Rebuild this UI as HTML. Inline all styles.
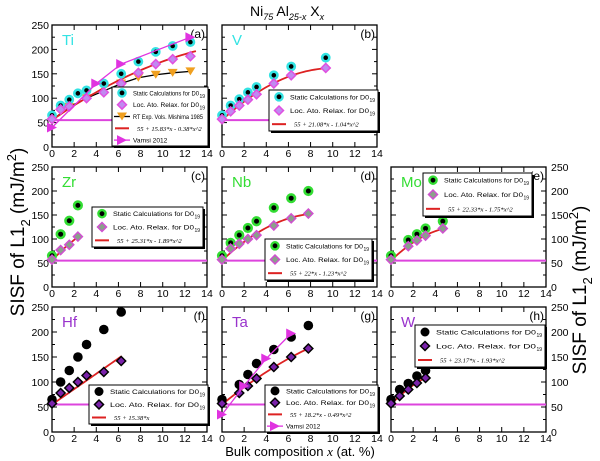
<!DOCTYPE html>
<html><head><meta charset="utf-8"><style>
body{margin:0;background:#fff;}
svg{display:block;font-family:"Liberation Sans",sans-serif;}
</style></head><body>
<svg id="fig" width="600" height="461" viewBox="0 0 600 461" xmlns="http://www.w3.org/2000/svg">
<text x="250" y="16" font-size="14">Ni<tspan font-size="9" dy="4" font-style="italic">75</tspan><tspan dy="-4"> Al</tspan><tspan font-size="9" dy="4" font-style="italic">25-x</tspan><tspan dy="-4"> X</tspan><tspan font-size="9" dy="4" font-style="italic">x</tspan></text>
<text transform="translate(24,232) rotate(-90)" text-anchor="middle" font-size="19">SISF of L1<tspan font-size="13" dy="6">2</tspan><tspan dy="-6"> (mJ/m</tspan><tspan font-size="13" dy="-8">2</tspan><tspan dy="8">)</tspan></text>
<text transform="translate(586,290) rotate(-90)" text-anchor="middle" font-size="19">SISF of L1<tspan font-size="13" dy="6">2</tspan><tspan dy="-6"> (mJ/m</tspan><tspan font-size="13" dy="-8">2</tspan><tspan dy="8">)</tspan></text>
<text x="300" y="456" text-anchor="middle" font-size="13">Bulk composition <tspan font-family="Liberation Serif" font-style="italic">x</tspan> (at. %)</text>
</svg>
<script>
// ---- data arrays ----
const xTicks = [0,2,4,6,8,10,12,14];
const yTicks = [0,50,100,150,200,250];
const tiStaticX = [0,0.78,1.56,2.34,3.12,4.68,6.25,7.8,9.37,10.9,12.5];
const tiStaticY = [65,85,97,110,116,130,150,175,195,207,215];
const tiLarX = [0,0.78,1.56,3.12,4.68,6.25,7.8,9.37,10.9,12.5];
const tiLarY = [57,77,83,100,112,130,152,170,180,186];
const tiMishX = [0,1.56,3.12,6.25,7.8,9.37,10.9,12.5];
const tiMishY = [55,82,100,130,142,148,152,155];
const tiVamsiX = [0,4,6.25,12.5];
const tiVamsiY = [40,130,170,225];
const tiFit = [55,15.83,-0.38,13];
const vStaticX = [0,0.78,1.56,2.34,3.12,4.68,6.25,9.37];
const vStaticY = [65,85,98,112,123,147,165,183];
const vLarX = [0,0.78,1.56,2.34,3.12,4.68,6.25,9.37];
const vLarY = [57,73,85,97,108,130,147,162];
const vFit = [55,21.08,-1.04,9.8];
const zrStaticX = [0,0.78,1.56,2.34];
const zrStaticY = [65,110,138,170];
const zrLarX = [0,0.78,1.56,2.34];
const zrLarY = [57,77,88,105];
const zrFit = [55,25.31,-1.89,2.4];
const nbStaticX = [0,0.78,1.56,2.34,3.12,4.68,6.25,7.8];
const nbStaticY = [65,92,108,123,137,165,185,200];
const nbLarX = [0,0.78,1.56,2.34,3.12,4.68,6.25,7.8];
const nbLarY = [57,80,90,100,108,128,143,153];
const nbFit = [55,22,-1.23,7.8];
const moStaticX = [0,1.56,2.34,3.12,4.68];
const moStaticY = [65,98,110,122,137];
const moLarX = [0,1.56,2.34,3.12,4.68];
const moLarY = [57,85,97,107,122];
const moFit = [55,22.33,-1.75,4.7];
const hfStaticX = [0,0.78,1.56,2.34,3.12,4.68,6.25];
const hfStaticY = [65,100,123,150,175,205,240];
const hfLarX = [0,0.78,1.56,2.34,3.12,4.68,6.25];
const hfLarY = [57,78,88,100,113,120,142];
const hfFit = [55,15.38,0,6.3];
const taStaticX = [0,1.56,2.34,3.12,4.68,6.25,7.8];
const taStaticY = [65,95,115,137,165,190,213];
const taLarX = [0,1.56,2.34,3.12,4.68,6.25,7.8];
const taLarY = [57,78,92,107,130,150,167];
const taVamsiX = [0,2,4,6.25];
const taVamsiY = [35,92,147,197];
const taFit = [55,18.2,-0.49,7.8];
const wStaticX = [0,0.78,1.56,2.34,3.12];
const wStaticY = [65,85,97,112,123];
const wLarX = [0,0.78,1.56,2.34,3.12];
const wLarY = [57,72,85,98,108];
const wFit = [55,23.17,-1.93,3.3];

const NS = "http://www.w3.org/2000/svg";
const svg = document.getElementById('fig');
function mk(tag, attrs, parent){const e=document.createElementNS(NS,tag);for(const k in attrs)e.setAttribute(k,attrs[k]);(parent||svg).appendChild(e);return e;}

const cols=[52,222,391], W=155;
const rows=[[25,147],[167,287],[307,432]];
const CY='#33e3e3', CG='#33dd33', CP='#9933cc';
const LF=6.6;

function panel(o){
  const L=cols[o.c], T=rows[o.r][0], B=rows[o.r][1];
  const sx=v=>L+v/14*W, sy=v=>B-v/250*(B-T);
  const g=mk('g',{});
  
  
  const fr=mk('rect',{x:L,y:T,width:W,height:B-T,fill:'none',stroke:'#000','stroke-width':1.3},g);
  
  
  for(let v=0;v<=14;v+=2){const x=sx(v),len=5;
    mk('line',{x1:x,x2:x,y1:B,y2:B-len,stroke:'#000'},g);mk('line',{x1:x,x2:x,y1:T,y2:T+len,stroke:'#000'},g);}
  for(let v=0;v<=250;v+=25){const y=sy(v),len=v%50==0?5:3;
    mk('line',{x1:L,x2:L+len,y1:y,y2:y,stroke:'#000'},g);mk('line',{x1:L+W,x2:L+W-len,y1:y,y2:y,stroke:'#000'},g);}
  xTicks.forEach(v=>{const t=mk('text',{x:sx(v),y:B+10,'font-size':10.5,'text-anchor':'middle'},g);t.textContent=v;
    });
  if(o.left) yTicks.forEach(v=>{const t=mk('text',{x:L-3,y:sy(v)+4,'font-size':10.5,'text-anchor':'end'},g);t.textContent=v;
    });
  if(o.right) yTicks.forEach(v=>{const t=mk('text',{x:L+W+5,y:sy(v)+4,'font-size':10.5},g);t.textContent=v;
    });
  const bl=mk('line',{x1:L,x2:L+W,y1:sy(55),y2:sy(55),stroke:'#dd44dd','stroke-width':2},g);
  
  const el=mk('text',{x:L+10,y:T+20,'font-size':15,fill:o.col},g);el.textContent=o.name;
  
  const pl=mk('text',{x:L+W-2,y:T+13,'font-size':12,'text-anchor':'end'},g);pl.textContent=o.tag;
  
  if(o.mx){let d='';o.mx.forEach((v,i)=>d+=(i?'L':'M')+sx(v)+','+sy(o.my[i]));
    const p=mk('path',{d,fill:'none',stroke:'#000','stroke-width':1.3},g);
    o.mx.forEach((v,i)=>{if(i==0)return;const x=sx(v),y=sy(o.my[i]);const t=mk('path',{d:`M${x-5},${y-4}L${x+5},${y-4}L${x},${y+4}Z`,fill:'#f0a020'},g);
      });}
  {const f=o.fit;let d='';for(let i=0;i<=40;i++){const x=f[3]*i/40;d+=(i?'L':'M')+sx(x)+','+sy(f[0]+f[1]*x+f[2]*x*x);}
   const p=mk('path',{d,fill:'none',stroke:'#dd2222','stroke-width':1.8},g);}
  o.sx.forEach((v,i)=>{const c=mk('circle',{cx:sx(v),cy:sy(o.sy[i]),r:o.r==2?4.8:(o.r==0?3.6:3.8),fill:'#000',stroke:o.halo||'none','stroke-width':o.halo?2.6:0},g);
    });
  o.lx.forEach((v,i)=>{const x=sx(v),y=sy(o.ly[i]),s=4.5;const p=mk('path',{d:`M${x},${y-s}L${x+s},${y}L${x},${y+s}L${x-s},${y}Z`,fill:o.dfill,stroke:o.dstroke,'stroke-width':1.5},g);
    });
  if(o.vx){let d='';o.vx.forEach((v,i)=>d+=(i?'L':'M')+sx(v)+','+sy(o.vy[i]));
    const p=mk('path',{d,fill:'none',stroke:'#e033e0','stroke-width':1.3},g);
    o.vx.forEach((v,i)=>{const x=sx(v),y=sy(o.vy[i]);const t=mk('path',{d:`M${x-5},${y-5}L${x+5},${y}L${x-5},${y+5}Z`,fill:'#e033e0'},g);
      });}
  const lg=o.leg;const lb=mk('g',{},g);
  mk('rect',{x:lg[0]+2,y:lg[1]+2,width:lg[2]-lg[0],height:lg[3]-lg[1],fill:'#000'},lb);
  mk('rect',{x:lg[0],y:lg[1],width:lg[2]-lg[0],height:lg[3]-lg[1],fill:'#fff',stroke:'#000'},lb);
  const n=o.entries.length,h=(lg[3]-lg[1])/n;
  const tw=lg[2]-lg[0]-30;
  o.entries.forEach((en,i)=>{const cy=lg[1]+h*(i+0.5),mx=lg[0]+10,tx=lg[0]+21;
    const eg=mk('g',{},lb);
    if(en=='s'){mk('circle',{cx:mx,cy,r:o.r==2?4.5:3.6,fill:'#000',stroke:o.halo||'none','stroke-width':o.halo?2.4:0},eg);
      const t=mk('text',{x:tx,y:cy+2.5,'font-size':LF,textLength:tw,lengthAdjust:'spacingAndGlyphs'},eg);t.textContent='Static Calculations for D0';
      const s=mk('text',{x:tx+tw+0.5,y:cy+5,'font-size':5},eg);s.textContent='19';}
    else if(en=='l'){mk('path',{d:`M${mx},${cy-4.5}L${mx+4.5},${cy}L${mx},${cy+4.5}L${mx-4.5},${cy}Z`,fill:o.dfill,stroke:o.dstroke,'stroke-width':1.5},eg);
      const t=mk('text',{x:tx,y:cy+2.5,'font-size':LF,textLength:tw,lengthAdjust:'spacingAndGlyphs'},eg);t.textContent='Loc.  Ato.  Relax.   for D0';
      t.setAttribute('xml:space','preserve');
      const s=mk('text',{x:tx+tw+0.5,y:cy+5,'font-size':5},eg);s.textContent='19';}
    else if(en=='m'){mk('line',{x1:mx-8,x2:mx+8,y1:cy,y2:cy,stroke:'#000','stroke-width':1.3},eg);
      mk('path',{d:`M${mx-5},${cy-4}L${mx+5},${cy-4}L${mx},${cy+4}Z`,fill:'#f0a020'},eg);
      const t=mk('text',{x:tx,y:cy+2.5,'font-size':LF,textLength:tw+4,lengthAdjust:'spacingAndGlyphs'},eg);t.textContent='RT Exp. Vols. Mishima 1985';}
    else if(en=='v'){mk('line',{x1:mx-8,x2:mx+8,y1:cy,y2:cy,stroke:'#e033e0','stroke-width':1.3},eg);
      mk('path',{d:`M${mx-5},${cy-5}L${mx+5},${cy}L${mx-5},${cy+5}Z`,fill:'#e033e0'},eg);
      const t=mk('text',{x:tx,y:cy+2.5,'font-size':LF},eg);t.textContent='Vamsi 2012';}
    else {mk('line',{x1:mx-7,x2:mx+7,y1:cy,y2:cy,stroke:'#dd2222','stroke-width':2},eg);
      const t=mk('text',{x:tx+4,y:cy+2.5,'font-size':LF,'font-family':'Liberation Serif','font-style':'italic'},eg);t.textContent=en;}
  });
}
const lar1={dfill:'#c08af0',dstroke:'#e050e0'}, lar2={dfill:'#8aa08a',dstroke:'#d050d0'}, lar3={dfill:'#7a22aa',dstroke:'#000'};
panel(Object.assign({name:'Ti',tag:'(a)',c:0,r:0,col:CY,halo:CY,left:true,sx:tiStaticX,sy:tiStaticY,lx:tiLarX,ly:tiLarY,mx:tiMishX,my:tiMishY,vx:tiVamsiX,vy:tiVamsiY,fit:tiFit,leg:[112,87,208,146],entries:['s','l','m','55 + 15.83*x - 0.38*x^2','v']},lar1));
panel(Object.assign({name:'V',tag:'(b)',c:1,r:0,col:CY,halo:CY,sx:vStaticX,sy:vStaticY,lx:vLarX,ly:vLarY,fit:vFit,leg:[269,90,378,131],entries:['s','l','55 + 21.08*x - 1.04*x^2']},lar1));
panel(Object.assign({name:'Zr',tag:'(c)',c:0,r:1,col:CG,halo:CG,left:true,sx:zrStaticX,sy:zrStaticY,lx:zrLarX,ly:zrLarY,fit:zrFit,leg:[92,207,203,247],entries:['s','l','55 + 25.31*x - 1.89*x^2']},lar2));
panel(Object.assign({name:'Nb',tag:'(d)',c:1,r:1,col:CG,halo:CG,sx:nbStaticX,sy:nbStaticY,lx:nbLarX,ly:nbLarY,fit:nbFit,leg:[265,239,372,280],entries:['s','l','55 + 22*x - 1.23*x^2']},lar2));
panel(Object.assign({name:'Mo',tag:'(e)',c:2,r:1,col:CG,halo:CG,right:true,sx:moStaticX,sy:moStaticY,lx:moLarX,ly:moLarY,fit:moFit,leg:[423,173,532,216],entries:['s','l','55 + 22.33*x - 1.75*x^2']},lar2));
panel(Object.assign({name:'Hf',tag:'(f)',c:0,r:2,col:CP,left:true,sx:hfStaticX,sy:hfStaticY,lx:hfLarX,ly:hfLarY,fit:hfFit,leg:[89,385,208,424],entries:['s','l','55 + 15.38*x']},lar3));
panel(Object.assign({name:'Ta',tag:'(g)',c:1,r:2,col:CP,sx:taStaticX,sy:taStaticY,lx:taLarX,ly:taLarY,vx:taVamsiX,vy:taVamsiY,fit:taFit,leg:[265,385,378,432],entries:['s','l','55 + 18.2*x - 0.49*x^2','v']},lar3));
panel(Object.assign({name:'W',tag:'(h)',c:2,r:2,col:CP,right:true,sx:wStaticX,sy:wStaticY,lx:wLarX,ly:wLarY,fit:wFit,leg:[415,325,545,367],entries:['s','l','55 + 23.17*x - 1.93*x^2']},lar3));
</script>
</body></html>
